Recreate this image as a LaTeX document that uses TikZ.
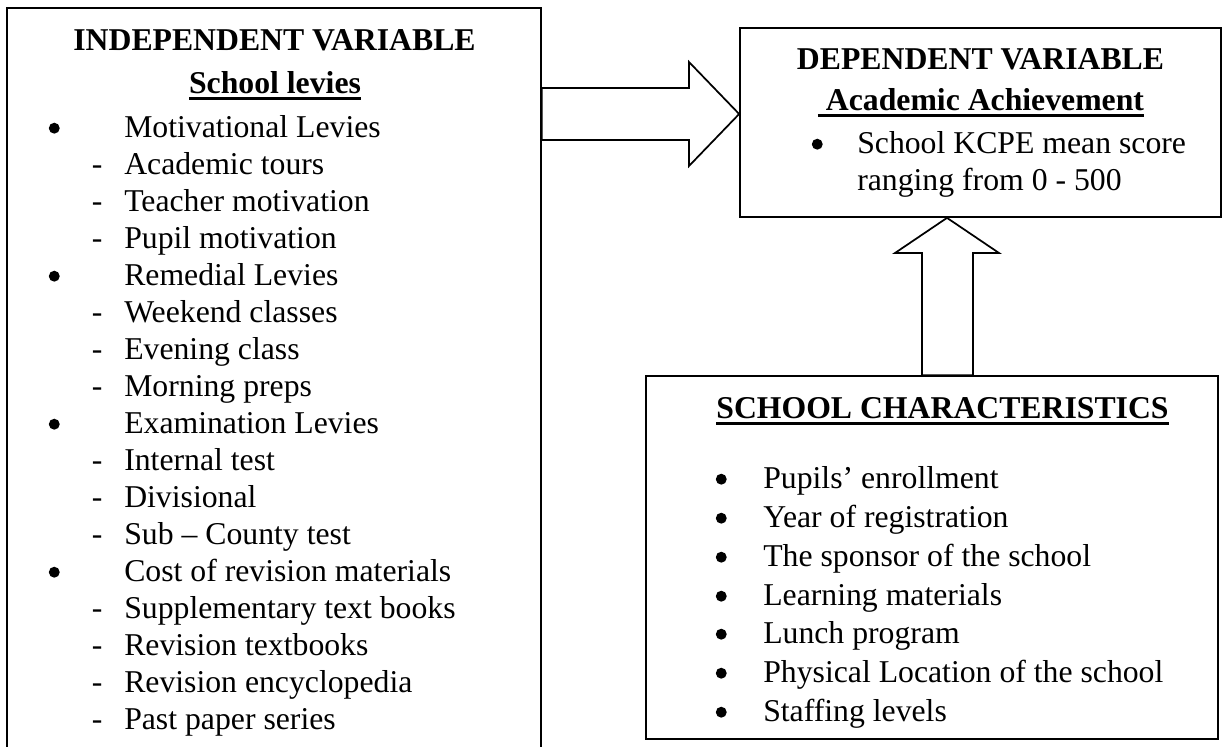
\documentclass[tikz,border=0pt]{standalone}
\usepackage{fontspec}
\setmainfont{Liberation Serif}
\usetikzlibrary{calc}
\newcommand\ulbox[1]{\setbox0\hbox{#1}\rlap{\rule[-5pt]{\wd0}{1.9pt}}\box0}
\newcommand\bul[1]{\llap{\makebox[#1][c]{\tikz[baseline=0pt]\fill (0,6.6pt) circle (4.1pt);}}}
\newcommand\dsh{\llap{\makebox[40.5pt][c]{-}}}

\begin{document}
\begin{tikzpicture}[x=0.75pt, y=-0.75pt,
	box/.style={draw, line width=1.3pt, inner sep=0pt},
	fat/.style={draw, line width=1.3pt, fill=white, line join=miter},
	hd/.style={inner sep=0pt, anchor=base, font=\fontsize{23.8}{28}\selectfont\bfseries},
	txt/.style={inner sep=0pt, anchor=base west, font=\fontsize{23.8}{28}\selectfont}]
			%%%%% START %%%%%
			\useasboundingbox (0,0) rectangle (1223,746);
			\clip (0,0) rectangle (1223,746);
			
			\node[box, minimum width=400.5pt, minimum height=568.5pt] (iv) at (274,387) {};
			\node[box, minimum width=360.75pt, minimum height=141.75pt] (dv) at (980.5,122.5) {};
			\node[box, minimum width=429pt, minimum height=272.25pt] (sc) at (932,557.5) {};
			
			\draw[fat] (iv.east |- 0,88) -- (689,88) -- (689,62) -- (dv.west |- 0,114) -- (689,166) -- (689,140) -- (iv.east |- 0,140) -- cycle;
			\draw[fat] (sc.north -| 922,0) -- (922,253) -- (895,253) -- (dv.south -| 947,0) -- (999,253) -- (973,253) -- (sc.north -| 973,0) -- cycle;
			
			\node[hd] (ivt) at (274.5,50) {INDEPENDENT VARIABLE};
			\node[hd] (ivs) at (275,93) {\ulbox{School levies}};
			\node[txt] (iv1) at (124,137) {\bul{105pt}Motivational Levies};
			\node[txt] (iv2) at (124,174) {\dsh Academic tours};
			\node[txt] (iv3) at (124,211) {\dsh Teacher motivation};
			\node[txt] (iv4) at (124,248) {\dsh Pupil motivation};
			\node[txt] (iv5) at (124,285) {\bul{105pt}Remedial Levies};
			\node[txt] (iv6) at (124,322) {\dsh Weekend classes};
			\node[txt] (iv7) at (124,359) {\dsh Evening class};
			\node[txt] (iv8) at (124,396) {\dsh Morning preps};
			\node[txt] (iv9) at (124,433) {\bul{105pt}Examination Levies};
			\node[txt] (iv10) at (124,470) {\dsh Internal test};
			\node[txt] (iv11) at (124,507) {\dsh Divisional};
			\node[txt] (iv12) at (124,544) {\dsh Sub – County test};
			\node[txt] (iv13) at (124,581) {\bul{105pt}Cost of revision materials};
			\node[txt] (iv14) at (124,618) {\dsh Supplementary text books};
			\node[txt] (iv15) at (124,655) {\dsh Revision textbooks};
			\node[txt] (iv16) at (124,692) {\dsh Revision encyclopedia};
			\node[txt] (iv17) at (124,729) {\dsh Past paper series};
			
			\node[hd] (dvt) at (980.5,69) {DEPENDENT VARIABLE};
			\node[hd] (dvs) at (981,110) {\ulbox{\ Academic Achievement}};
			\node[txt] (dv1) at (857,153) {\bul{60pt}School KCPE mean score};
			\node[txt] (dv2) at (857,190) {ranging from 0 - 500};
			
			\node[hd] (sct) at (942.5,418) {\ulbox{SCHOOL CHARACTERISTICS}};
			\node[txt] (sc1) at (763,488) {\bul{63pt}Pupils’ enrollment};
			\node[txt] (sc2) at (763,527) {\bul{63pt}Year of registration};
			\node[txt] (sc3) at (763,566) {\bul{63pt}The sponsor of the school};
			\node[txt] (sc4) at (763,605) {\bul{63pt}Learning materials};
			\node[txt] (sc5) at (763,643) {\bul{63pt}Lunch program};
			\node[txt] (sc6) at (763,682) {\bul{63pt}Physical Location of the school};
			\node[txt] (sc7) at (763,721) {\bul{63pt}Staffing levels};
			
			%%%%% END %%%%%
\end{tikzpicture}
\end{document}
